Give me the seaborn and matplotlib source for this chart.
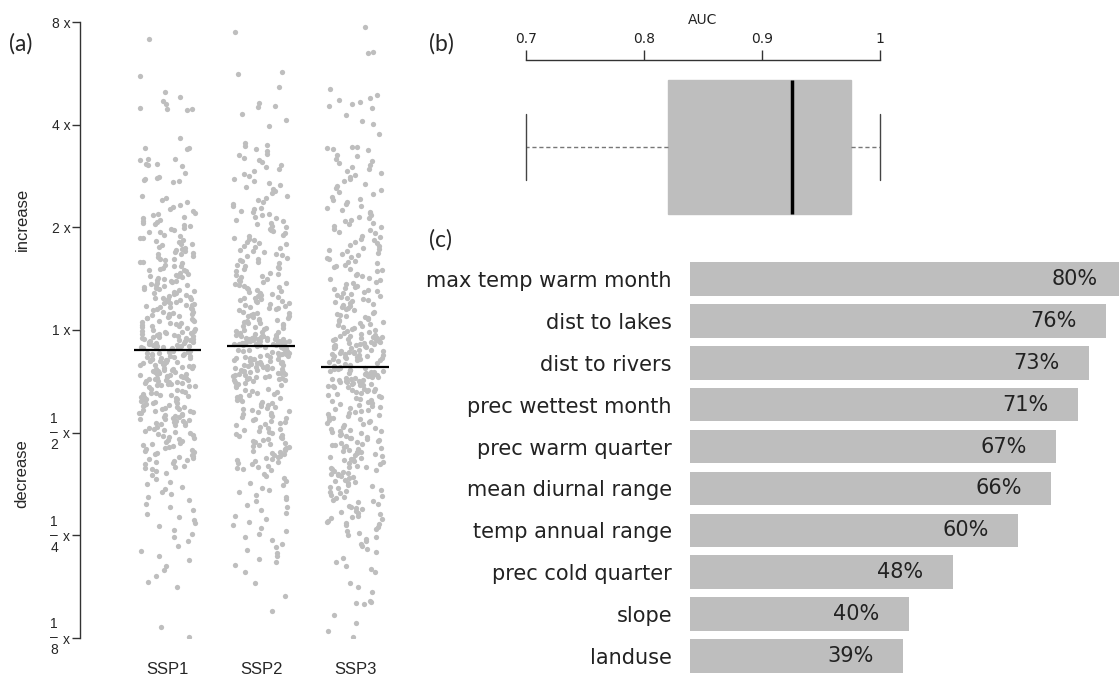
import numpy as np
import pandas as pd
import matplotlib
matplotlib.use("Agg")
import matplotlib.pyplot as plt
import seaborn as sns

# ── (a) projected change per scenario (log2 of change factor) ─────────
scenarios = ["SSP1", "SSP2", "SSP3"]

ssp1 = [
    2.83, 2.47, 2.32, 2.27, 2.23, 2.20, 2.16, 2.15, 2.15, 2.14,
    1.87, 1.77, 1.77, 1.76, 1.67, 1.67, 1.66, 1.62, 1.62, 1.61, 1.60, 1.53,
    1.49, 1.48, 1.47, 1.46, 1.45, 1.44,
    1.31, 1.29, 1.27, 1.25, 1.22, 1.20, 1.18, 1.16, 1.14, 1.13, 1.12, 1.10,
    1.09, 1.07, 1.06, 1.05, 1.04, 1.03, 1.02, 1.01,
    0.99, 0.98, 0.97, 0.95, 0.95, 0.93, 0.92, 0.90, 0.90, 0.88, 0.87, 0.86,
    0.84, 0.84, 0.83, 0.81, 0.80, 0.79, 0.78, 0.77, 0.76, 0.75,
    0.74, 0.74, 0.72, 0.71, 0.69, 0.69, 0.68, 0.66, 0.66, 0.65, 0.63, 0.62,
    0.62, 0.60, 0.59, 0.58, 0.58, 0.57, 0.56, 0.55,
    0.54, 0.53, 0.53, 0.52, 0.51, 0.50, 0.49, 0.48, 0.48, 0.47, 0.46, 0.45,
    0.44, 0.44, 0.43, 0.42, 0.41, 0.40, 0.40, 0.39, 0.38, 0.37, 0.36, 0.36,
    0.35, 0.34, 0.33, 0.32,
    0.31, 0.31, 0.30, 0.30, 0.29, 0.28, 0.28, 0.27, 0.26, 0.26, 0.25, 0.24,
    0.24, 0.23, 0.22, 0.22, 0.21, 0.20, 0.20, 0.19, 0.18, 0.18, 0.17, 0.16,
    0.16, 0.15, 0.14, 0.14, 0.13, 0.12, 0.12, 0.11, 0.10, 0.09, 0.09, 0.08,
    0.07, 0.07, 0.06, 0.05, 0.04, 0.04, 0.03, 0.02, 0.01,
    0.00, -0.01, -0.01, -0.02, -0.02, -0.03, -0.03, -0.04, -0.04, -0.05,
    -0.05, -0.06, -0.06, -0.07, -0.07, -0.08, -0.08, -0.09, -0.09, -0.10,
    -0.10, -0.11, -0.11, -0.12, -0.12, -0.13, -0.13, -0.14, -0.14, -0.15,
    -0.15, -0.16, -0.16, -0.16, -0.17, -0.17, -0.17, -0.18, -0.18, -0.18,
    -0.19, -0.19, -0.20, -0.20, -0.21, -0.21, -0.22, -0.22, -0.23, -0.23,
    -0.24, -0.24, -0.25, -0.25, -0.26, -0.26, -0.27, -0.27, -0.28, -0.28,
    -0.29, -0.29, -0.30, -0.30, -0.31, -0.31, -0.32, -0.32, -0.33, -0.33,
    -0.34, -0.34, -0.35, -0.35, -0.36, -0.36, -0.37, -0.37, -0.38, -0.38,
    -0.39, -0.39, -0.40, -0.40, -0.41, -0.41, -0.42, -0.42, -0.43, -0.43,
    -0.44, -0.44, -0.45, -0.45, -0.46, -0.46, -0.47, -0.47, -0.48, -0.48,
    -0.49, -0.49, -0.50, -0.50, -0.51, -0.51, -0.52, -0.52, -0.53, -0.53,
    -0.54, -0.54, -0.55, -0.55, -0.56, -0.57, -0.58, -0.59, -0.60,
    -0.61, -0.61, -0.62, -0.63, -0.63, -0.64, -0.65, -0.65, -0.66, -0.67,
    -0.67, -0.68, -0.69, -0.69, -0.70, -0.71, -0.71, -0.72, -0.73, -0.73,
    -0.74, -0.75, -0.75, -0.76, -0.77, -0.77, -0.78, -0.79, -0.79, -0.80,
    -0.81, -0.81, -0.82, -0.83, -0.83, -0.84, -0.85, -0.85, -0.86, -0.87,
    -0.87, -0.88, -0.89, -0.89, -0.90, -0.91, -0.91, -0.92, -0.93, -0.93,
    -0.94, -0.95, -0.96, -0.97, -0.98, -0.99, -1.00, -1.01, -1.02, -1.03,
    -1.04, -1.05, -1.06, -1.07, -1.08, -1.09, -1.10, -1.11, -1.12, -1.13,
    -1.14, -1.15, -1.16, -1.17, -1.18, -1.19, -1.20, -1.21, -1.22, -1.23,
    -1.24, -1.25, -1.26, -1.27, -1.28, -1.29, -1.30, -1.31, -1.32, -1.33,
    -1.34, -1.35, -1.37, -1.39, -1.41,
    -1.45, -1.48, -1.50, -1.53, -1.55, -1.58, -1.60, -1.63, -1.66, -1.69,
    -1.72, -1.75, -1.79, -1.82, -1.85, -1.88, -1.91, -1.95, -1.99, -2.02,
    -2.06, -2.10, -2.15, -2.20,
    -2.24, -2.30, -2.34, -2.40, -2.45, -2.50,
    -2.89, -2.99,
]

ssp2 = [
    2.90, 2.51, 2.49, 2.37, 2.21, 2.18, 2.17, 2.10, 2.05, 1.99,
    1.82, 1.80, 1.79, 1.76, 1.74, 1.71, 1.70, 1.68, 1.66, 1.64, 1.61, 1.59,
    1.57, 1.55, 1.52, 1.50,
    1.47, 1.45, 1.43, 1.41, 1.39, 1.37, 1.35, 1.33, 1.31, 1.29, 1.27, 1.25,
    1.23, 1.21,
    1.19, 1.18, 1.16, 1.15, 1.13, 1.12, 1.10, 1.09, 1.07, 1.06, 1.04, 1.03,
    1.01, 1.00, 0.98, 0.97, 0.96, 0.94,
    0.93, 0.92, 0.90, 0.89, 0.88, 0.86, 0.85, 0.84, 0.82, 0.81, 0.80, 0.78,
    0.77, 0.76, 0.74, 0.73, 0.72, 0.70, 0.69, 0.68,
    0.67, 0.66, 0.65, 0.63, 0.62, 0.61, 0.60, 0.59, 0.57, 0.56, 0.55, 0.54,
    0.53, 0.52, 0.50, 0.49, 0.48, 0.47, 0.46, 0.45, 0.44, 0.43,
    0.42, 0.41, 0.40, 0.39, 0.38, 0.37, 0.36, 0.35, 0.34, 0.33, 0.32, 0.31,
    0.30, 0.29, 0.28, 0.27, 0.26, 0.25, 0.24, 0.23, 0.22, 0.21, 0.20, 0.19,
    0.18, 0.17, 0.16, 0.15, 0.14, 0.13, 0.12, 0.11, 0.10, 0.09, 0.08, 0.07,
    0.06, 0.05, 0.04, 0.03, 0.02, 0.01, 0.00, -0.01, -0.02, -0.03, -0.04,
    -0.05, 0.35, 0.28, 0.21, 0.14, 0.07, 0.02, -0.02, 0.31, 0.17, 0.10,
    -0.06, -0.06, -0.07, -0.07, -0.07, -0.08, -0.08, -0.08, -0.09, -0.09,
    -0.09, -0.10, -0.10, -0.10, -0.11, -0.11, -0.11, -0.12, -0.12, -0.12,
    -0.13, -0.13, -0.13, -0.14, -0.14, -0.14, -0.15, -0.15, -0.15, -0.05,
    -0.06, -0.09, -0.11, -0.13, -0.14,
    -0.16, -0.16, -0.17, -0.17, -0.18, -0.18, -0.19, -0.19, -0.20, -0.20,
    -0.21, -0.21, -0.22, -0.22, -0.23, -0.23, -0.24, -0.24, -0.25, -0.25,
    -0.26, -0.26, -0.27, -0.27, -0.28, -0.28, -0.29, -0.29, -0.30, -0.30,
    -0.31, -0.31, -0.32, -0.32, -0.33, -0.33, -0.34, -0.34, -0.35, -0.35,
    -0.36, -0.36, -0.37, -0.37, -0.38, -0.38, -0.39, -0.39, -0.40, -0.40,
    -0.41, -0.41, -0.42, -0.42, -0.43, -0.43, -0.44, -0.44, -0.45, -0.45,
    -0.46, -0.46, -0.47, -0.47, -0.48, -0.48, -0.49, -0.49, -0.50, -0.51,
    -0.52, -0.53, -0.54, -0.55, -0.56, -0.57, -0.58, -0.59, -0.60, -0.61,
    -0.62, -0.63, -0.64, -0.65, -0.66, -0.67, -0.68, -0.69, -0.70, -0.71,
    -0.72, -0.73, -0.74, -0.75, -0.76,
    -0.77, -0.78, -0.79, -0.80, -0.81, -0.82, -0.83, -0.84, -0.85, -0.86,
    -0.87, -0.88, -0.89, -0.90, -0.91, -0.92, -0.93, -0.94, -0.95, -0.96,
    -0.97, -0.98, -0.99, -1.00, -1.01, -1.02, -1.03, -1.04, -1.05, -1.06,
    -1.07, -1.08, -1.09, -1.10, -1.11, -1.12, -1.13, -1.14, -1.15, -1.16,
    -1.17, -1.18, -1.19, -1.20, -1.21, -1.22, -1.23, -1.24, -1.25, -1.26,
    -1.27, -1.28, -1.29, -1.30, -1.31, -1.32, -1.33, -1.34, -1.35, -1.36,
    -1.40, -1.42, -1.44, -1.47, -1.49, -1.51, -1.54, -1.56, -1.58, -1.61,
    -1.63, -1.65, -1.67, -1.70,
    -1.72, -1.75, -1.78, -1.81, -1.84, -1.87, -1.90, -1.93, -1.96, -1.99,
    -2.02, -2.05, -2.08, -2.11, -2.14, -2.17, -2.20, -2.23, -2.26, -2.29,
    -2.36, -2.46, -2.59, -2.74,
]

ssp3 = [
    2.95, 2.71, 2.70, 2.35, 2.29, 2.26, 2.24, 2.22, 2.20, 2.18, 2.16, 2.09,
    2.04, 2.01, 1.91, 1.78, 1.78, 1.77, 1.76, 1.75, 1.70, 1.69,
    1.67, 1.65, 1.63, 1.61, 1.59, 1.57, 1.55, 1.53, 1.51, 1.49, 1.47, 1.45,
    1.42, 1.40,
    1.38, 1.36, 1.34, 1.32, 1.30, 1.28, 1.27, 1.25, 1.23, 1.21, 1.19, 1.17,
    1.15, 1.14, 1.12, 1.10, 1.09, 1.07,
    1.06, 1.04, 1.03, 1.01, 1.00, 0.98, 0.97, 0.95, 0.94, 0.92, 0.91, 0.89,
    0.88, 0.86, 0.85, 0.83, 0.82, 0.80, 0.79, 0.78, 0.77, 0.75,
    0.74, 0.73, 0.71, 0.70, 0.69, 0.67, 0.66, 0.65, 0.63, 0.62, 0.61, 0.59,
    0.58, 0.57, 0.55, 0.54, 0.53, 0.51, 0.50, 0.49, 0.47, 0.46, 0.45, 0.43,
    0.42,
    0.41, 0.40, 0.39, 0.38, 0.37, 0.36, 0.35, 0.34, 0.33, 0.32, 0.31, 0.30,
    0.29, 0.28, 0.27, 0.26, 0.25, 0.24, 0.23, 0.22, 0.21, 0.20, 0.19, 0.18,
    0.17, 0.16, 0.15, 0.14, 0.13, 0.12, 0.11, 0.10, 0.09, 0.08, 0.07, 0.06,
    0.05, 0.04, 0.03, 0.02, 0.01, 0.00, -0.01, -0.02, -0.03, -0.04, -0.05,
    -0.06, -0.06, -0.07, -0.07, -0.08, -0.08, -0.09, -0.09, -0.10, -0.10,
    -0.11, -0.11, -0.12, -0.12, -0.13, -0.13, -0.14, -0.14, -0.15, -0.15,
    -0.16, -0.16, -0.17, -0.17, -0.18, -0.18, -0.19, -0.19, -0.20, -0.20,
    -0.21, -0.21, -0.22, -0.22, -0.23, -0.23, -0.24, -0.24, -0.25, -0.25,
    -0.26, -0.26, -0.27, -0.27, -0.28, -0.28, -0.29, -0.29, -0.30, -0.31,
    -0.32, -0.33, -0.34, -0.35, -0.36,
    -0.37, -0.37, -0.38, -0.38, -0.39, -0.39, -0.40, -0.40, -0.41, -0.41,
    -0.42, -0.42, -0.43, -0.43, -0.44, -0.44, -0.45, -0.45, -0.46, -0.46,
    -0.47, -0.47, -0.48, -0.48, -0.49, -0.49, -0.50, -0.50, -0.51, -0.51,
    -0.52, -0.52, -0.53, -0.53, -0.54, -0.54, -0.55, -0.55, -0.56, -0.56,
    -0.57, -0.57, -0.58, -0.58, -0.59, -0.59, -0.60, -0.61, -0.62, -0.63,
    -0.64, -0.65, -0.66, -0.67, -0.68, -0.69, -0.70, -0.71, -0.72, -0.73,
    -0.74, -0.75, -0.76, -0.77, -0.78, -0.79, -0.80, -0.81, -0.82, -0.83,
    -0.84, -0.85, -0.86, -0.87, -0.88, -0.89, -0.90, -0.91, -0.92, -0.93,
    -0.94, -0.95, -0.96, -0.97, -0.98, -0.99, -1.00, -1.01, -1.02, -1.03,
    -1.04, -1.05, -1.06, -1.07, -1.08, -1.09, -1.10, -1.11, -1.12, -1.13,
    -1.14, -1.15, -1.16, -1.17, -1.18, -1.19, -1.20, -1.21, -1.22, -1.23,
    -1.24, -1.25, -1.26, -1.27, -1.28, -1.29, -1.30, -1.31, -1.32, -1.33,
    -1.34, -1.35, -1.36, -1.37, -1.38, -1.39, -1.40, -1.41, -0.98, -1.05,
    -1.12, -1.19, -1.26, -1.33, -1.40,
    -1.42, -1.43, -1.44, -1.46, -1.47, -1.48, -1.49, -1.51, -1.52, -1.53,
    -1.54, -1.56, -1.57, -1.58, -1.59, -1.61, -1.62, -1.63, -1.64, -1.66,
    -1.67, -1.68, -1.69, -1.71, -1.72, -1.73, -1.74, -1.76, -1.77, -1.78,
    -1.79, -1.81, -1.82, -1.83, -1.84, -1.86, -1.87, -1.88, -1.89, -1.90,
    -1.92, -1.94, -1.96, -1.98, -2.00, -2.02, -2.04, -2.06, -2.08, -2.10,
    -2.13, -2.16,
    -2.22, -2.26, -2.30, -2.33, -2.36, -2.46, -2.50, -2.55, -2.64, -2.65,
    -2.66, -2.67, -2.78, -2.85, -2.93, -2.99,
]

factor_ticks = [-3, -2, -1, 0, 1, 2, 3]
factor_labels = ["x", "x", "x", "1 x", "2 x", "4 x", "8 x"]
# stacked fractions drawn left of the "x" on the decrease side
fraction_ticks = [-3, -2, -1]
fraction_text = ["1\n–\n8", "1\n–\n4", "1\n–\n2"]

# ── (b) model AUC ───────────────────────────────────────────────
auc = [0.70, 0.78, 0.82, 0.87, 0.925, 0.94, 0.975, 0.99, 1.00]
auc_ticks = [0.7, 0.8, 0.9, 1.0]
auc_labels = ["0.7", "0.8", "0.9", "1"]

# ── (c) variable importance ──────────────────────────────────────
variables = ["max temp warm month", "dist to lakes", "dist to rivers",
             "prec wettest month", "prec warm quarter", "mean diurnal range",
             "temp annual range", "prec cold quarter", "slope", "landuse"]
importance = [80, 76, 73, 71, 67, 66, 60, 48, 40, 39]

GREY = "#BEBEBE"
W, H = 1119, 682

sns.set_theme(style="white")
plt.rcParams["font.family"] = ["DejaVu Sans"]


def box(left, top, right, bottom):
    # pixel box -> figure fraction
    return [left / W, 1 - bottom / H, (right - left) / W, (bottom - top) / H]


fig = plt.figure(figsize=(W / 100, H / 100), dpi=100)

# ══════════════════════════════════════════════════════════════
# (a) strip plot of change factors
# ══════════════════════════════════════════════════════════════
ax_a = fig.add_axes(box(80, 22, 402, 638))
df_a = pd.DataFrame({
    "scenario": np.repeat(scenarios, [len(ssp1), len(ssp2), len(ssp3)]),
    "change": ssp1 + ssp2 + ssp3,
})
np.random.seed(11)  # only for the strip jitter
sns.stripplot(data=df_a, x="scenario", y="change", order=scenarios,
              color=GREY, size=3.8, jitter=0.3, linewidth=0, ax=ax_a)
for i, vals in enumerate([ssp1, ssp2, ssp3]):
    ax_a.hlines(np.median(vals), i - 0.36, i + 0.36, color="black", lw=1.6, zorder=5)

ax_a.set_xlim(-0.93, 2.5)
ax_a.set_ylim(-3, 3)
ax_a.set_yticks(factor_ticks, factor_labels)
ax_a.set_xlabel("")
ax_a.set_ylabel("")
for s in ["top", "right", "bottom"]:
    ax_a.spines[s].set_visible(False)
ax_a.spines["left"].set_color("#333333")
ax_a.spines["left"].set_linewidth(1)
ax_a.tick_params(axis="y", length=6, width=1, color="#333333", labelsize=10,
                 pad=1, left=True)
ax_a.tick_params(axis="x", length=0, labelsize=12, pad=17)
for lbl in ax_a.get_yticklabels() + ax_a.get_xticklabels():
    lbl.set_family("Liberation Sans")
for t, frac in zip(fraction_ticks, fraction_text):
    ax_a.annotate(frac, xy=(0, t), xycoords=("axes fraction", "data"),
                  xytext=(-18.5, 0.5), textcoords="offset points", ha="center",
                  va="center", fontsize=10, linespacing=0.92,
                  family="Liberation Sans", annotation_clip=False)
fig.text(22 / W, 1 - 219 / H, "increase", rotation=90, ha="center", va="center",
         fontsize=12, family="Liberation Sans")
fig.text(22 / W, 1 - 474 / H, "decrease", rotation=90, ha="center", va="center",
         fontsize=12, family="Liberation Sans")

# ══════════════════════════════════════════════════════════════
# (b) AUC boxplot
# ══════════════════════════════════════════════════════════════
ax_b = fig.add_axes(box(526, 60, 880, 234))
sns.boxplot(x=auc, ax=ax_b, whis=(0, 100), width=0.8, color=GREY, saturation=1,
            showfliers=False, linewidth=1,
            boxprops={"facecolor": GREY, "edgecolor": GREY},
            medianprops={"color": "black", "linewidth": 2.5},
            whiskerprops={"color": "#777777", "linestyle": (0, (3, 2)), "linewidth": 1},
            capprops={"color": "#444444", "linewidth": 1})
for ln in ax_b.lines:
    ln.set_clip_on(False)
ax_b.set_xlim(0.7, 1.0)
ax_b.set_ylim(0.52, -0.52)
ax_b.set_yticks([])
ax_b.xaxis.set_ticks_position("top")
ax_b.xaxis.set_label_position("top")
ax_b.set_xticks(auc_ticks, auc_labels)
ax_b.set_xlabel("AUC", fontsize=10, labelpad=6, color="#222222")
for s in ["bottom", "left", "right"]:
    ax_b.spines[s].set_visible(False)
ax_b.spines["top"].set_color("#333333")
ax_b.spines["top"].set_linewidth(1)
ax_b.tick_params(axis="x", top=True, bottom=False, length=7, width=1,
                 color="#333333", labelsize=10, labelcolor="#222222", pad=3)

# ══════════════════════════════════════════════════════════════
# (c) variable importance bars
# ══════════════════════════════════════════════════════════════
ax_c = fig.add_axes(box(690, 258, 1119, 677))
sns.barplot(x=importance, y=variables, color=GREY, saturation=1, width=0.8,
            edgecolor="none", orient="h", ax=ax_c)
for i, v in enumerate(importance):
    ax_c.text(v - 9.6, i, f"{v}%", ha="center", va="center", fontsize=15,
              color="#222222")
ax_c.set_xlim(0, 429 / 5.47)
ax_c.set_ylim(9.5, -0.5)
ax_c.set_xticks([])
ax_c.set_xlabel("")
ax_c.set_ylabel("")
ax_c.tick_params(axis="y", length=0, pad=13, labelsize=15, labelcolor="#222222")
sns.despine(ax=ax_c, left=True, bottom=True)

# panel letters
for x, y, t in [(9, 44, "(a)"), (429, 44, "(b)"), (429, 240, "(c)")]:
    fig.text(x / W, 1 - y / H, t, fontsize=16.5, va="center", ha="left",
             family="Lato")

fig.savefig("out.png", dpi=100)
